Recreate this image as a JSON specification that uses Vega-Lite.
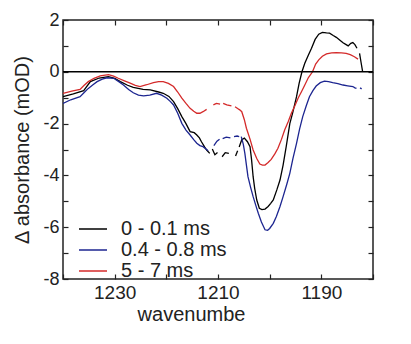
{
  "$schema": "https://vega.github.io/schema/vega-lite/v6.json",
  "width": 310,
  "height": 259,
  "autosize": {"type": "none"},
  "padding": {"left": 63, "top": 20, "right": 38, "bottom": 65},
  "background": "white",
  "config": {
    "view": {"stroke": "#222", "strokeWidth": 1.5},
    "font": "Liberation Sans",
    "axis": {"grid": false, "domain": false, "tickColor": "#222", "tickSize": -5, "tickWidth": 1.2, "labelColor": "#222", "titleColor": "#222", "labelFont": "Liberation Sans", "titleFont": "Liberation Sans", "titleFontWeight": "normal"},
    "legend": {"labelFont": "Liberation Sans", "labelFontSize": 20, "labelColor": "#222"}
  },
  "resolve": {"axis": {"x": "independent", "y": "independent"}},
  "layer": [
    {
      "data": {"values": [
        {"series":"0 - 0.1 ms","seg":"b1","x":1240,"y":-0.96},{"series":"0 - 0.1 ms","seg":"b1","x":1238,"y":-0.85},{"series":"0 - 0.1 ms","seg":"b1","x":1236,"y":-0.73},{"series":"0 - 0.1 ms","seg":"b1","x":1234.7,"y":-0.38},{"series":"0 - 0.1 ms","seg":"b1","x":1233,"y":-0.24},{"series":"0 - 0.1 ms","seg":"b1","x":1231.2,"y":-0.19},{"series":"0 - 0.1 ms","seg":"b1","x":1230,"y":-0.25},{"series":"0 - 0.1 ms","seg":"b1","x":1228.9,"y":-0.38},{"series":"0 - 0.1 ms","seg":"b1","x":1227.5,"y":-0.52},{"series":"0 - 0.1 ms","seg":"b1","x":1226.4,"y":-0.6},{"series":"0 - 0.1 ms","seg":"b1","x":1224.5,"y":-0.68},{"series":"0 - 0.1 ms","seg":"b1","x":1223.1,"y":-0.7},{"series":"0 - 0.1 ms","seg":"b1","x":1221.5,"y":-0.78},{"series":"0 - 0.1 ms","seg":"b1","x":1220.6,"y":-0.83},{"series":"0 - 0.1 ms","seg":"b1","x":1219.5,"y":-0.95},{"series":"0 - 0.1 ms","seg":"b1","x":1218.6,"y":-1.15},{"series":"0 - 0.1 ms","seg":"b1","x":1217.8,"y":-1.42},{"series":"0 - 0.1 ms","seg":"b1","x":1217,"y":-1.73},{"series":"0 - 0.1 ms","seg":"b1","x":1216.2,"y":-2.0},{"series":"0 - 0.1 ms","seg":"b1","x":1215.4,"y":-2.31},{"series":"0 - 0.1 ms","seg":"b1","x":1214.6,"y":-2.35},{"series":"0 - 0.1 ms","seg":"b1","x":1214.1,"y":-2.44},{"series":"0 - 0.1 ms","seg":"b1","x":1213.6,"y":-2.55},{"series":"0 - 0.1 ms","seg":"b1","x":1213.2,"y":-2.7},{"series":"0 - 0.1 ms","seg":"b1","x":1212.6,"y":-2.9},{"series":"0 - 0.1 ms","seg":"b1","x":1212.2,"y":-3.02},{"series":"0 - 0.1 ms","seg":"b1","x":1211.6,"y":-3.15},
        {"series":"0 - 0.1 ms","seg":"b2","x":1211.1,"y":-2.98},{"series":"0 - 0.1 ms","seg":"b2","x":1210.6,"y":-3.2},{"series":"0 - 0.1 ms","seg":"b2","x":1210.1,"y":-3.12},
        {"series":"0 - 0.1 ms","seg":"b3","x":1209.2,"y":-3.28},{"series":"0 - 0.1 ms","seg":"b3","x":1208.6,"y":-3.12},{"series":"0 - 0.1 ms","seg":"b3","x":1207.9,"y":-3.15},
        {"series":"0 - 0.1 ms","seg":"b4","x":1206.6,"y":-3.25},{"series":"0 - 0.1 ms","seg":"b4","x":1206.2,"y":-3.05},
        {"series":"0 - 0.1 ms","seg":"b5","x":1205.9,"y":-2.9},{"series":"0 - 0.1 ms","seg":"b5","x":1205.4,"y":-2.62},{"series":"0 - 0.1 ms","seg":"b5","x":1204.9,"y":-2.56},{"series":"0 - 0.1 ms","seg":"b5","x":1204.3,"y":-2.7},{"series":"0 - 0.1 ms","seg":"b5","x":1203.8,"y":-2.89},{"series":"0 - 0.1 ms","seg":"b5","x":1203.5,"y":-3.4},{"series":"0 - 0.1 ms","seg":"b5","x":1203.2,"y":-4.05},{"series":"0 - 0.1 ms","seg":"b5","x":1202.9,"y":-4.5},{"series":"0 - 0.1 ms","seg":"b5","x":1202.5,"y":-4.95},{"series":"0 - 0.1 ms","seg":"b5","x":1202.0,"y":-5.27},{"series":"0 - 0.1 ms","seg":"b5","x":1201.5,"y":-5.32},{"series":"0 - 0.1 ms","seg":"b5","x":1200.9,"y":-5.3},{"series":"0 - 0.1 ms","seg":"b5","x":1200.3,"y":-5.2},{"series":"0 - 0.1 ms","seg":"b5","x":1199.8,"y":-5.08},{"series":"0 - 0.1 ms","seg":"b5","x":1199.3,"y":-4.95},{"series":"0 - 0.1 ms","seg":"b5","x":1198.6,"y":-4.55},{"series":"0 - 0.1 ms","seg":"b5","x":1198.0,"y":-4.18},{"series":"0 - 0.1 ms","seg":"b5","x":1197.4,"y":-3.6},{"series":"0 - 0.1 ms","seg":"b5","x":1196.8,"y":-2.89},{"series":"0 - 0.1 ms","seg":"b5","x":1196.1,"y":-2.0},{"series":"0 - 0.1 ms","seg":"b5","x":1195.5,"y":-1.55},{"series":"0 - 0.1 ms","seg":"b5","x":1194.8,"y":-0.96},{"series":"0 - 0.1 ms","seg":"b5","x":1194.3,"y":-0.45},{"series":"0 - 0.1 ms","seg":"b5","x":1193.75,"y":0.0},{"series":"0 - 0.1 ms","seg":"b5","x":1193.2,"y":0.33},{"series":"0 - 0.1 ms","seg":"b5","x":1192.5,"y":0.65},{"series":"0 - 0.1 ms","seg":"b5","x":1191.9,"y":0.91},{"series":"0 - 0.1 ms","seg":"b5","x":1191.2,"y":1.25},{"series":"0 - 0.1 ms","seg":"b5","x":1190.5,"y":1.45},{"series":"0 - 0.1 ms","seg":"b5","x":1189.8,"y":1.52},{"series":"0 - 0.1 ms","seg":"b5","x":1189.0,"y":1.5},{"series":"0 - 0.1 ms","seg":"b5","x":1188.4,"y":1.49},{"series":"0 - 0.1 ms","seg":"b5","x":1187.7,"y":1.4},{"series":"0 - 0.1 ms","seg":"b5","x":1187.1,"y":1.33},{"series":"0 - 0.1 ms","seg":"b5","x":1186.4,"y":1.22},{"series":"0 - 0.1 ms","seg":"b5","x":1185.8,"y":1.12},{"series":"0 - 0.1 ms","seg":"b5","x":1185.2,"y":1.05},{"series":"0 - 0.1 ms","seg":"b5","x":1184.8,"y":1.0},{"series":"0 - 0.1 ms","seg":"b5","x":1184.3,"y":1.1},{"series":"0 - 0.1 ms","seg":"b5","x":1183.9,"y":1.13},{"series":"0 - 0.1 ms","seg":"b5","x":1183.5,"y":1.05},{"series":"0 - 0.1 ms","seg":"b5","x":1183.1,"y":0.91},
        {"series":"0 - 0.1 ms","seg":"b6","x":1182.6,"y":0.71},{"series":"0 - 0.1 ms","seg":"b6","x":1182.3,"y":0.35},{"series":"0 - 0.1 ms","seg":"b6","x":1182.0,"y":0.0},
        {"series":"0.4 - 0.8 ms","seg":"u1","x":1240,"y":-1.22},{"series":"0.4 - 0.8 ms","seg":"u1","x":1238.5,"y":-1.08},{"series":"0.4 - 0.8 ms","seg":"u1","x":1236.7,"y":-0.96},{"series":"0.4 - 0.8 ms","seg":"u1","x":1235.9,"y":-0.8},{"series":"0.4 - 0.8 ms","seg":"u1","x":1235.1,"y":-0.64},{"series":"0.4 - 0.8 ms","seg":"u1","x":1234.2,"y":-0.5},{"series":"0.4 - 0.8 ms","seg":"u1","x":1233.4,"y":-0.38},{"series":"0.4 - 0.8 ms","seg":"u1","x":1232.4,"y":-0.28},{"series":"0.4 - 0.8 ms","seg":"u1","x":1231.5,"y":-0.23},{"series":"0.4 - 0.8 ms","seg":"u1","x":1230.2,"y":-0.25},{"series":"0.4 - 0.8 ms","seg":"u1","x":1229.2,"y":-0.38},{"series":"0.4 - 0.8 ms","seg":"u1","x":1228.3,"y":-0.51},{"series":"0.4 - 0.8 ms","seg":"u1","x":1227.3,"y":-0.68},{"series":"0.4 - 0.8 ms","seg":"u1","x":1226.4,"y":-0.81},{"series":"0.4 - 0.8 ms","seg":"u1","x":1225.4,"y":-0.9},{"series":"0.4 - 0.8 ms","seg":"u1","x":1224.4,"y":-0.93},{"series":"0.4 - 0.8 ms","seg":"u1","x":1223.2,"y":-0.9},{"series":"0.4 - 0.8 ms","seg":"u1","x":1221.9,"y":-0.83},{"series":"0.4 - 0.8 ms","seg":"u1","x":1220.9,"y":-0.9},{"series":"0.4 - 0.8 ms","seg":"u1","x":1219.9,"y":-1.02},{"series":"0.4 - 0.8 ms","seg":"u1","x":1219.2,"y":-1.15},{"series":"0.4 - 0.8 ms","seg":"u1","x":1218.6,"y":-1.28},{"series":"0.4 - 0.8 ms","seg":"u1","x":1217.8,"y":-1.6},{"series":"0.4 - 0.8 ms","seg":"u1","x":1217,"y":-1.99},{"series":"0.4 - 0.8 ms","seg":"u1","x":1216.2,"y":-2.25},{"series":"0.4 - 0.8 ms","seg":"u1","x":1215.4,"y":-2.44},{"series":"0.4 - 0.8 ms","seg":"u1","x":1214.7,"y":-2.62},{"series":"0.4 - 0.8 ms","seg":"u1","x":1214.1,"y":-2.76},{"series":"0.4 - 0.8 ms","seg":"u1","x":1213.5,"y":-2.85},{"series":"0.4 - 0.8 ms","seg":"u1","x":1212.9,"y":-2.89},{"series":"0.4 - 0.8 ms","seg":"u1","x":1212.4,"y":-2.97},{"series":"0.4 - 0.8 ms","seg":"u1","x":1211.9,"y":-3.05},
        {"series":"0.4 - 0.8 ms","seg":"u2","x":1210.8,"y":-2.85},{"series":"0.4 - 0.8 ms","seg":"u2","x":1210.2,"y":-2.68},{"series":"0.4 - 0.8 ms","seg":"u2","x":1209.7,"y":-2.6},
        {"series":"0.4 - 0.8 ms","seg":"u3","x":1209.1,"y":-2.58},{"series":"0.4 - 0.8 ms","seg":"u3","x":1208.4,"y":-2.52},{"series":"0.4 - 0.8 ms","seg":"u3","x":1207.6,"y":-2.55},
        {"series":"0.4 - 0.8 ms","seg":"u4","x":1206.9,"y":-2.5},{"series":"0.4 - 0.8 ms","seg":"u4","x":1206.3,"y":-2.48},{"series":"0.4 - 0.8 ms","seg":"u4","x":1205.9,"y":-2.5},
        {"series":"0.4 - 0.8 ms","seg":"u5","x":1205.5,"y":-2.5},{"series":"0.4 - 0.8 ms","seg":"u5","x":1205.1,"y":-2.8},{"series":"0.4 - 0.8 ms","seg":"u5","x":1204.8,"y":-3.15},{"series":"0.4 - 0.8 ms","seg":"u5","x":1204.5,"y":-3.6},{"series":"0.4 - 0.8 ms","seg":"u5","x":1204.2,"y":-4.05},{"series":"0.4 - 0.8 ms","seg":"u5","x":1203.7,"y":-4.45},{"series":"0.4 - 0.8 ms","seg":"u5","x":1203.2,"y":-4.82},{"series":"0.4 - 0.8 ms","seg":"u5","x":1202.7,"y":-5.15},{"series":"0.4 - 0.8 ms","seg":"u5","x":1202.2,"y":-5.46},{"series":"0.4 - 0.8 ms","seg":"u5","x":1201.6,"y":-5.8},{"series":"0.4 - 0.8 ms","seg":"u5","x":1200.9,"y":-6.1},{"series":"0.4 - 0.8 ms","seg":"u5","x":1200.4,"y":-6.12},{"series":"0.4 - 0.8 ms","seg":"u5","x":1200,"y":-6.05},{"series":"0.4 - 0.8 ms","seg":"u5","x":1199.3,"y":-5.85},{"series":"0.4 - 0.8 ms","seg":"u5","x":1198.7,"y":-5.59},{"series":"0.4 - 0.8 ms","seg":"u5","x":1198,"y":-5.2},{"series":"0.4 - 0.8 ms","seg":"u5","x":1197.4,"y":-4.82},{"series":"0.4 - 0.8 ms","seg":"u5","x":1196.7,"y":-4.35},{"series":"0.4 - 0.8 ms","seg":"u5","x":1196.1,"y":-3.92},{"series":"0.4 - 0.8 ms","seg":"u5","x":1195.5,"y":-3.35},{"series":"0.4 - 0.8 ms","seg":"u5","x":1194.8,"y":-2.76},{"series":"0.4 - 0.8 ms","seg":"u5","x":1194.2,"y":-2.2},{"series":"0.4 - 0.8 ms","seg":"u5","x":1193.6,"y":-1.73},{"series":"0.4 - 0.8 ms","seg":"u5","x":1192.9,"y":-1.3},{"series":"0.4 - 0.8 ms","seg":"u5","x":1192.3,"y":-0.96},{"series":"0.4 - 0.8 ms","seg":"u5","x":1191.6,"y":-0.72},{"series":"0.4 - 0.8 ms","seg":"u5","x":1191,"y":-0.55},{"series":"0.4 - 0.8 ms","seg":"u5","x":1190.2,"y":-0.42},{"series":"0.4 - 0.8 ms","seg":"u5","x":1189.4,"y":-0.36},{"series":"0.4 - 0.8 ms","seg":"u5","x":1188.6,"y":-0.38},{"series":"0.4 - 0.8 ms","seg":"u5","x":1187.8,"y":-0.42},{"series":"0.4 - 0.8 ms","seg":"u5","x":1186.8,"y":-0.46},{"series":"0.4 - 0.8 ms","seg":"u5","x":1185.8,"y":-0.51},{"series":"0.4 - 0.8 ms","seg":"u5","x":1184.9,"y":-0.54},{"series":"0.4 - 0.8 ms","seg":"u5","x":1183.9,"y":-0.57},{"series":"0.4 - 0.8 ms","seg":"u5","x":1183.5,"y":-0.62},{"series":"0.4 - 0.8 ms","seg":"u5","x":1183.2,"y":-0.64},
        {"series":"0.4 - 0.8 ms","seg":"u6","x":1182.5,"y":-0.62},{"series":"0.4 - 0.8 ms","seg":"u6","x":1182.2,"y":-0.66},
        {"series":"5 - 7 ms","seg":"r1","x":1240,"y":-0.83},{"series":"5 - 7 ms","seg":"r1","x":1238.3,"y":-0.75},{"series":"5 - 7 ms","seg":"r1","x":1236.7,"y":-0.68},{"series":"5 - 7 ms","seg":"r1","x":1235.9,"y":-0.52},{"series":"5 - 7 ms","seg":"r1","x":1235.1,"y":-0.38},{"series":"5 - 7 ms","seg":"r1","x":1234,"y":-0.25},{"series":"5 - 7 ms","seg":"r1","x":1232.8,"y":-0.16},{"series":"5 - 7 ms","seg":"r1","x":1231.2,"y":-0.11},{"series":"5 - 7 ms","seg":"r1","x":1230.2,"y":-0.17},{"series":"5 - 7 ms","seg":"r1","x":1229.3,"y":-0.25},{"series":"5 - 7 ms","seg":"r1","x":1228.1,"y":-0.35},{"series":"5 - 7 ms","seg":"r1","x":1227,"y":-0.44},{"series":"5 - 7 ms","seg":"r1","x":1226,"y":-0.52},{"series":"5 - 7 ms","seg":"r1","x":1225.1,"y":-0.57},{"series":"5 - 7 ms","seg":"r1","x":1223.8,"y":-0.5},{"series":"5 - 7 ms","seg":"r1","x":1222.5,"y":-0.42},{"series":"5 - 7 ms","seg":"r1","x":1221.5,"y":-0.38},{"series":"5 - 7 ms","seg":"r1","x":1220.6,"y":-0.38},{"series":"5 - 7 ms","seg":"r1","x":1219.6,"y":-0.45},{"series":"5 - 7 ms","seg":"r1","x":1218.6,"y":-0.57},{"series":"5 - 7 ms","seg":"r1","x":1217.8,"y":-0.78},{"series":"5 - 7 ms","seg":"r1","x":1217,"y":-1.02},{"series":"5 - 7 ms","seg":"r1","x":1216.2,"y":-1.22},{"series":"5 - 7 ms","seg":"r1","x":1215.4,"y":-1.41},{"series":"5 - 7 ms","seg":"r1","x":1214.7,"y":-1.52},{"series":"5 - 7 ms","seg":"r1","x":1214.1,"y":-1.6},{"series":"5 - 7 ms","seg":"r1","x":1213.5,"y":-1.6},{"series":"5 - 7 ms","seg":"r1","x":1212.9,"y":-1.54},{"series":"5 - 7 ms","seg":"r1","x":1212.2,"y":-1.45},
        {"series":"5 - 7 ms","seg":"r2","x":1210.9,"y":-1.28},{"series":"5 - 7 ms","seg":"r2","x":1210.3,"y":-1.22},{"series":"5 - 7 ms","seg":"r2","x":1209.6,"y":-1.25},
        {"series":"5 - 7 ms","seg":"r3","x":1209,"y":-1.22},{"series":"5 - 7 ms","seg":"r3","x":1208.3,"y":-1.28},{"series":"5 - 7 ms","seg":"r3","x":1207.4,"y":-1.32},
        {"series":"5 - 7 ms","seg":"r4","x":1206.7,"y":-1.35},{"series":"5 - 7 ms","seg":"r4","x":1206.2,"y":-1.42},{"series":"5 - 7 ms","seg":"r4","x":1205.8,"y":-1.47},{"series":"5 - 7 ms","seg":"r4","x":1205.4,"y":-1.54},{"series":"5 - 7 ms","seg":"r4","x":1204.9,"y":-1.85},{"series":"5 - 7 ms","seg":"r4","x":1204.5,"y":-2.18},{"series":"5 - 7 ms","seg":"r4","x":1203.8,"y":-2.6},{"series":"5 - 7 ms","seg":"r4","x":1203.2,"y":-3.02},{"series":"5 - 7 ms","seg":"r4","x":1202.5,"y":-3.35},{"series":"5 - 7 ms","seg":"r4","x":1201.9,"y":-3.56},{"series":"5 - 7 ms","seg":"r4","x":1201.4,"y":-3.6},{"series":"5 - 7 ms","seg":"r4","x":1200.9,"y":-3.6},{"series":"5 - 7 ms","seg":"r4","x":1200.3,"y":-3.5},{"series":"5 - 7 ms","seg":"r4","x":1199.7,"y":-3.38},{"series":"5 - 7 ms","seg":"r4","x":1199,"y":-3.17},{"series":"5 - 7 ms","seg":"r4","x":1198.4,"y":-2.95},{"series":"5 - 7 ms","seg":"r4","x":1197.7,"y":-2.6},{"series":"5 - 7 ms","seg":"r4","x":1197.1,"y":-2.25},{"series":"5 - 7 ms","seg":"r4","x":1196.4,"y":-1.92},{"series":"5 - 7 ms","seg":"r4","x":1195.8,"y":-1.6},{"series":"5 - 7 ms","seg":"r4","x":1195.1,"y":-1.3},{"series":"5 - 7 ms","seg":"r4","x":1194.5,"y":-1.02},{"series":"5 - 7 ms","seg":"r4","x":1193.8,"y":-0.75},{"series":"5 - 7 ms","seg":"r4","x":1193.2,"y":-0.51},{"series":"5 - 7 ms","seg":"r4","x":1192.5,"y":-0.22},{"series":"5 - 7 ms","seg":"r4","x":1191.7,"y":0.0},{"series":"5 - 7 ms","seg":"r4","x":1191.1,"y":0.3},{"series":"5 - 7 ms","seg":"r4","x":1190.5,"y":0.46},{"series":"5 - 7 ms","seg":"r4","x":1189.8,"y":0.6},{"series":"5 - 7 ms","seg":"r4","x":1189,"y":0.69},{"series":"5 - 7 ms","seg":"r4","x":1188,"y":0.73},{"series":"5 - 7 ms","seg":"r4","x":1187.1,"y":0.74},{"series":"5 - 7 ms","seg":"r4","x":1186.1,"y":0.73},{"series":"5 - 7 ms","seg":"r4","x":1185.2,"y":0.71},{"series":"5 - 7 ms","seg":"r4","x":1184.4,"y":0.66},{"series":"5 - 7 ms","seg":"r4","x":1183.6,"y":0.58},{"series":"5 - 7 ms","seg":"r4","x":1182.9,"y":0.49}
      ]},
      "mark": {"type": "line", "strokeWidth": 1.3, "clip": true},
      "encoding": {
        "x": {"field": "x", "type": "quantitative", "scale": {"domain": [1180, 1240], "reverse": true, "nice": false, "zero": false},
              "axis": {"orient": "bottom", "values": [1180, 1190, 1200, 1210, 1220, 1230, 1240], "labelExpr": "datum.value % 20 == 10 ? '' + datum.value : ''", "labelFontSize": 19, "labelPadding": 9, "title": "wavenumbe", "titleFontSize": 20, "titleX": 128, "titleY": 41, "titleAlign": "center", "titleBaseline": "alphabetic"}},
        "y": {"field": "y", "type": "quantitative", "scale": {"domain": [-8, 2], "nice": false, "zero": false},
              "axis": {"orient": "left", "values": [-8, -7, -6, -5, -4, -3, -2, -1, 0, 1, 2], "labelExpr": "datum.value % 2 == 0 ? '' + datum.value : ''", "labelFontSize": 18, "labelPadding": 9, "title": "Δ absorbance (mOD)", "titleFontSize": 20, "titlePadding": 10}},
        "color": {"field": "series", "type": "nominal",
                  "scale": {"domain": ["0 - 0.1 ms", "0.4 - 0.8 ms", "5 - 7 ms"], "range": ["#000000", "#1c2590", "#d42a2a"]},
                  "legend": {"title": null, "orient": "none", "legendX": 19, "legendY": 198, "symbolType": "M-1.4,0L1.4,0", "symbolSize": 400, "symbolStrokeWidth": 1.5, "labelOffset": 17, "rowPadding": 0, "padding": 0, "labelFontSize": 20}},
        "detail": {"field": "seg", "type": "nominal"}
      }
    },
    {
      "data": {"values": [{}]},
      "mark": {"type": "rule", "color": "#000", "strokeWidth": 1.5},
      "encoding": {
        "x": {"datum": 1240, "type": "quantitative", "scale": {"domain": [1180, 1240], "reverse": true, "nice": false, "zero": false},
              "axis": {"orient": "top", "values": [1180, 1190, 1200, 1210, 1220, 1230, 1240], "labels": false, "title": null}},
        "x2": {"datum": 1180},
        "y": {"datum": 0, "type": "quantitative", "scale": {"domain": [-8, 2], "nice": false, "zero": false},
              "axis": {"orient": "right", "values": [-8, -7, -6, -5, -4, -3, -2, -1, 0, 1, 2], "labels": false, "title": null}}
      }
    }
  ]
}
